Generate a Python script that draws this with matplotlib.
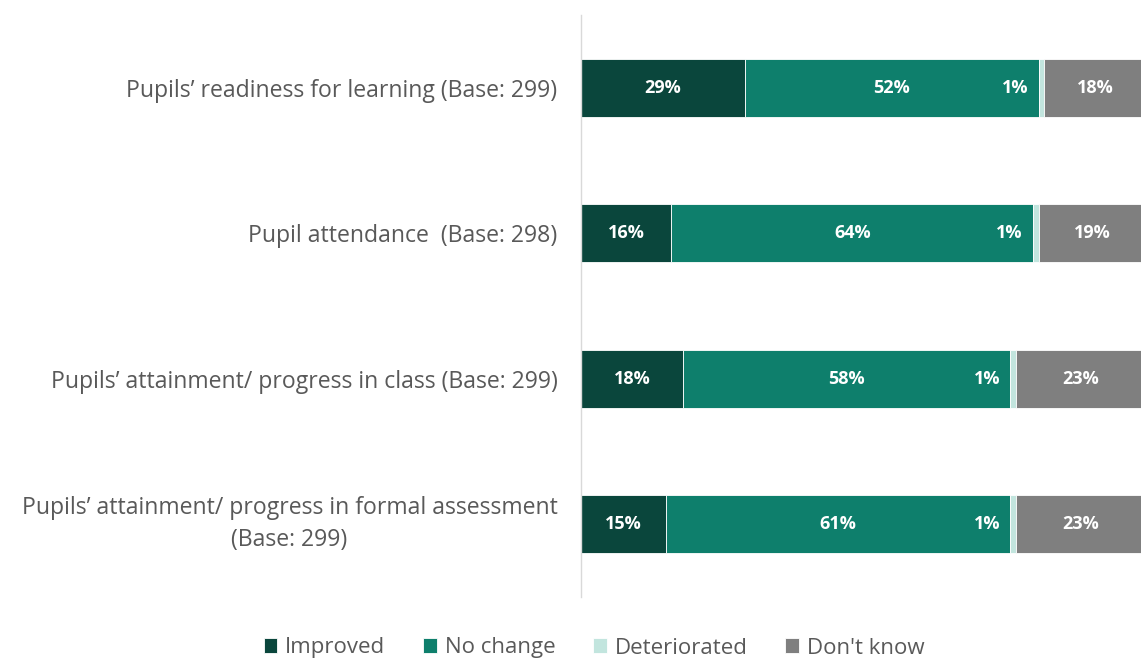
import matplotlib
matplotlib.use("Agg")
import matplotlib.pyplot as plt
import numpy as np

categories = [
    "Pupils\u2019 readiness for learning (Base: 299)",
    "Pupil attendance  (Base: 298)",
    "Pupils\u2019 attainment/ progress in class (Base: 299)",
    "Pupils\u2019 attainment/ progress in formal assessment\n(Base: 299)",
]
series_names = ["Improved", "No change", "Deteriorated", "Don't know"]
improved = [29, 16, 18, 15]
no_change = [52, 64, 58, 61]
deteriorated = [1, 1, 1, 1]
dont_know = [18, 19, 23, 23]
colors = ["#0a463c", "#0e7f6c", "#c2e5de", "#7f7f7f"]

plt.rcParams['font.family'] = ['Open Sans', 'DejaVu Sans']

fig = plt.figure(figsize=(11.41, 6.59), dpi=100)
ax = fig.add_axes([581/1141, 1 - 597/659, 565/1141, 582/659])

data = [improved, no_change, deteriorated, dont_know]
y = np.arange(len(categories))
left = np.zeros(len(categories))
for name, vals, col in zip(series_names, data, colors):
    vals = np.array(vals, dtype=float)
    bars = ax.barh(y, vals, left=left, height=0.4, color=col, edgecolor='white',
                   linewidth=0.6, label=name)
    if name != "Deteriorated":
        for b, v, l in zip(bars, vals, left):
            ax.text(l + v / 2, b.get_y() + b.get_height() / 2, f"{int(v)}%",
                    ha='center', va='center', color='white', fontsize=13, fontweight='bold')
    else:
        for b, v, l in zip(bars, vals, left):
            ax.text(l - 1.8, b.get_y() + b.get_height() / 2, f"{int(v)}%",
                    ha='right', va='center', color='white', fontsize=13, fontweight='bold')
    left += vals

ax.set_xlim(0, 100)
ax.set_ylim(len(categories) - 0.5, -0.5)
ax.set_yticks(y)
ax.set_yticklabels(categories, fontsize=16.6, color='#595959', multialignment='center',
                   linespacing=1.45)
for t in ax.get_yticklabels():
    if "\n" in t.get_text():
        t.set_va('center')
ax.tick_params(axis='y', length=0, pad=17)
ax.set_xticks([])
for s in ['top', 'right', 'bottom']:
    ax.spines[s].set_visible(False)
ax.spines['left'].set_color('#d9d9d9')
ax.spines['left'].set_linewidth(1.0)

handles, labels = ax.get_legend_handles_labels()
fig.legend(handles, labels, loc='center', bbox_to_anchor=(594/1141, 1 - 648/659),
           ncol=4, frameon=False, fontsize=16, handlelength=0.62, handleheight=0.62,
           handletextpad=0.35, columnspacing=1.7, labelcolor='#595959')

fig.savefig("out.png", dpi=100)
